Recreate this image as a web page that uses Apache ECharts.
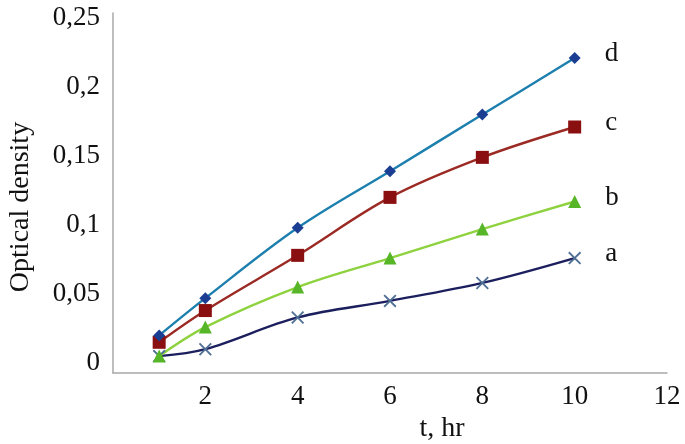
<!DOCTYPE html>
<html>
<head>
<meta charset="utf-8">
<script src="https://cdn.jsdelivr.net/npm/echarts@6/dist/echarts.min.js"></script>
<style>html,body{margin:0;padding:0;background:#fff}#c{width:685px;height:444px}</style>
</head>
<body>
<div id="c"></div>
<script>
const hours = [1, 2, 4, 6, 8, 10];
const seriesA = [0.005, 0.010, 0.033, 0.045, 0.058, 0.076];
const seriesB = [0.005, 0.026, 0.055, 0.076, 0.097, 0.117];
const seriesC = [0.015, 0.038, 0.078, 0.120, 0.149, 0.171];
const seriesD = [0.020, 0.047, 0.098, 0.139, 0.180, 0.221];
const yTicks = [0, 0.05, 0.1, 0.15, 0.2, 0.25];
const xTicks = [2, 4, 6, 8, 10, 12];
const names = ['a', 'b', 'c', 'd'];

const font = 'Liberation Serif';
const xMark = 'path://M0,1L1,0L5,4L9,0L10,1L6,5L10,9L9,10L5,6L1,10L0,9L4,5Z';

function mk(name, vals, lineColor, markColor, symbol, size) {
  return {
    name: name, type: 'line', smooth: 0.35,
    data: hours.map((h, i) => {
      const p = [h, vals[i]];
      if (i === hours.length - 1) {
        return {value: p, label: {show: true, position: 'right', distance: 24, offset: [0, -4],
          formatter: name, fontFamily: font, fontSize: 27, color: '#111'}};
      }
      return p;
    }),
    symbol: symbol, symbolSize: size,
    lineStyle: {color: lineColor, width: 2.4},
    itemStyle: {color: markColor},
    z: 3
  };
}

const chart = echarts.init(document.getElementById('c'), null, {renderer: 'canvas'});
chart.setOption({
  animation: false,
  backgroundColor: '#fff',
  grid: {left: 113, right: 18, top: 13, bottom: 71, containLabel: false, outerBoundsMode: 'none'},
  xAxis: {
    type: 'value', min: 0, max: 12, interval: 2,
    name: 't, hr', nameLocation: 'middle', nameGap: 40,
    nameTextStyle: {fontFamily: font, fontSize: 28, color: '#111', padding: [0, 0, 0, 104]},
    axisLine: {onZero: false, lineStyle: {color: '#a8a8a8', width: 1.5}},
    axisTick: {show: false},
    splitLine: {show: false},
    axisLabel: {
      fontFamily: font, fontSize: 27, color: '#111', margin: 10,
      formatter: v => xTicks.indexOf(v) >= 0 ? String(v) : ''
    }
  },
  yAxis: {
    type: 'value', min: -0.00725, max: 0.2536,
    name: 'Optical density', nameLocation: 'middle', nameGap: 78, nameRotate: 90,
    nameTextStyle: {fontFamily: font, fontSize: 28, color: '#111', padding: [0, 28, 0, 0]},
    axisLine: {show: true, onZero: false, lineStyle: {color: '#a8a8a8', width: 1.5}},
    axisTick: {show: false},
    splitLine: {show: false},
    axisLabel: {
      fontFamily: font, fontSize: 27, color: '#111', margin: 13,
      customValues: yTicks,
      formatter: v => String(Math.round(v * 100) / 100).replace('.', ',')
    }
  },
  series: [
    mk('a', seriesA, '#1c1f5e', '#4f6f95', xMark, 13),
    mk('b', seriesB, '#8ed23f', '#56b627', 'triangle', 13),
    mk('c', seriesC, '#9c2a24', '#8a0f10', 'rect', 13),
    mk('d', seriesD, '#1c7fae', '#1b3d92', 'diamond', 12)
  ]
});
</script>
</body>
</html>
